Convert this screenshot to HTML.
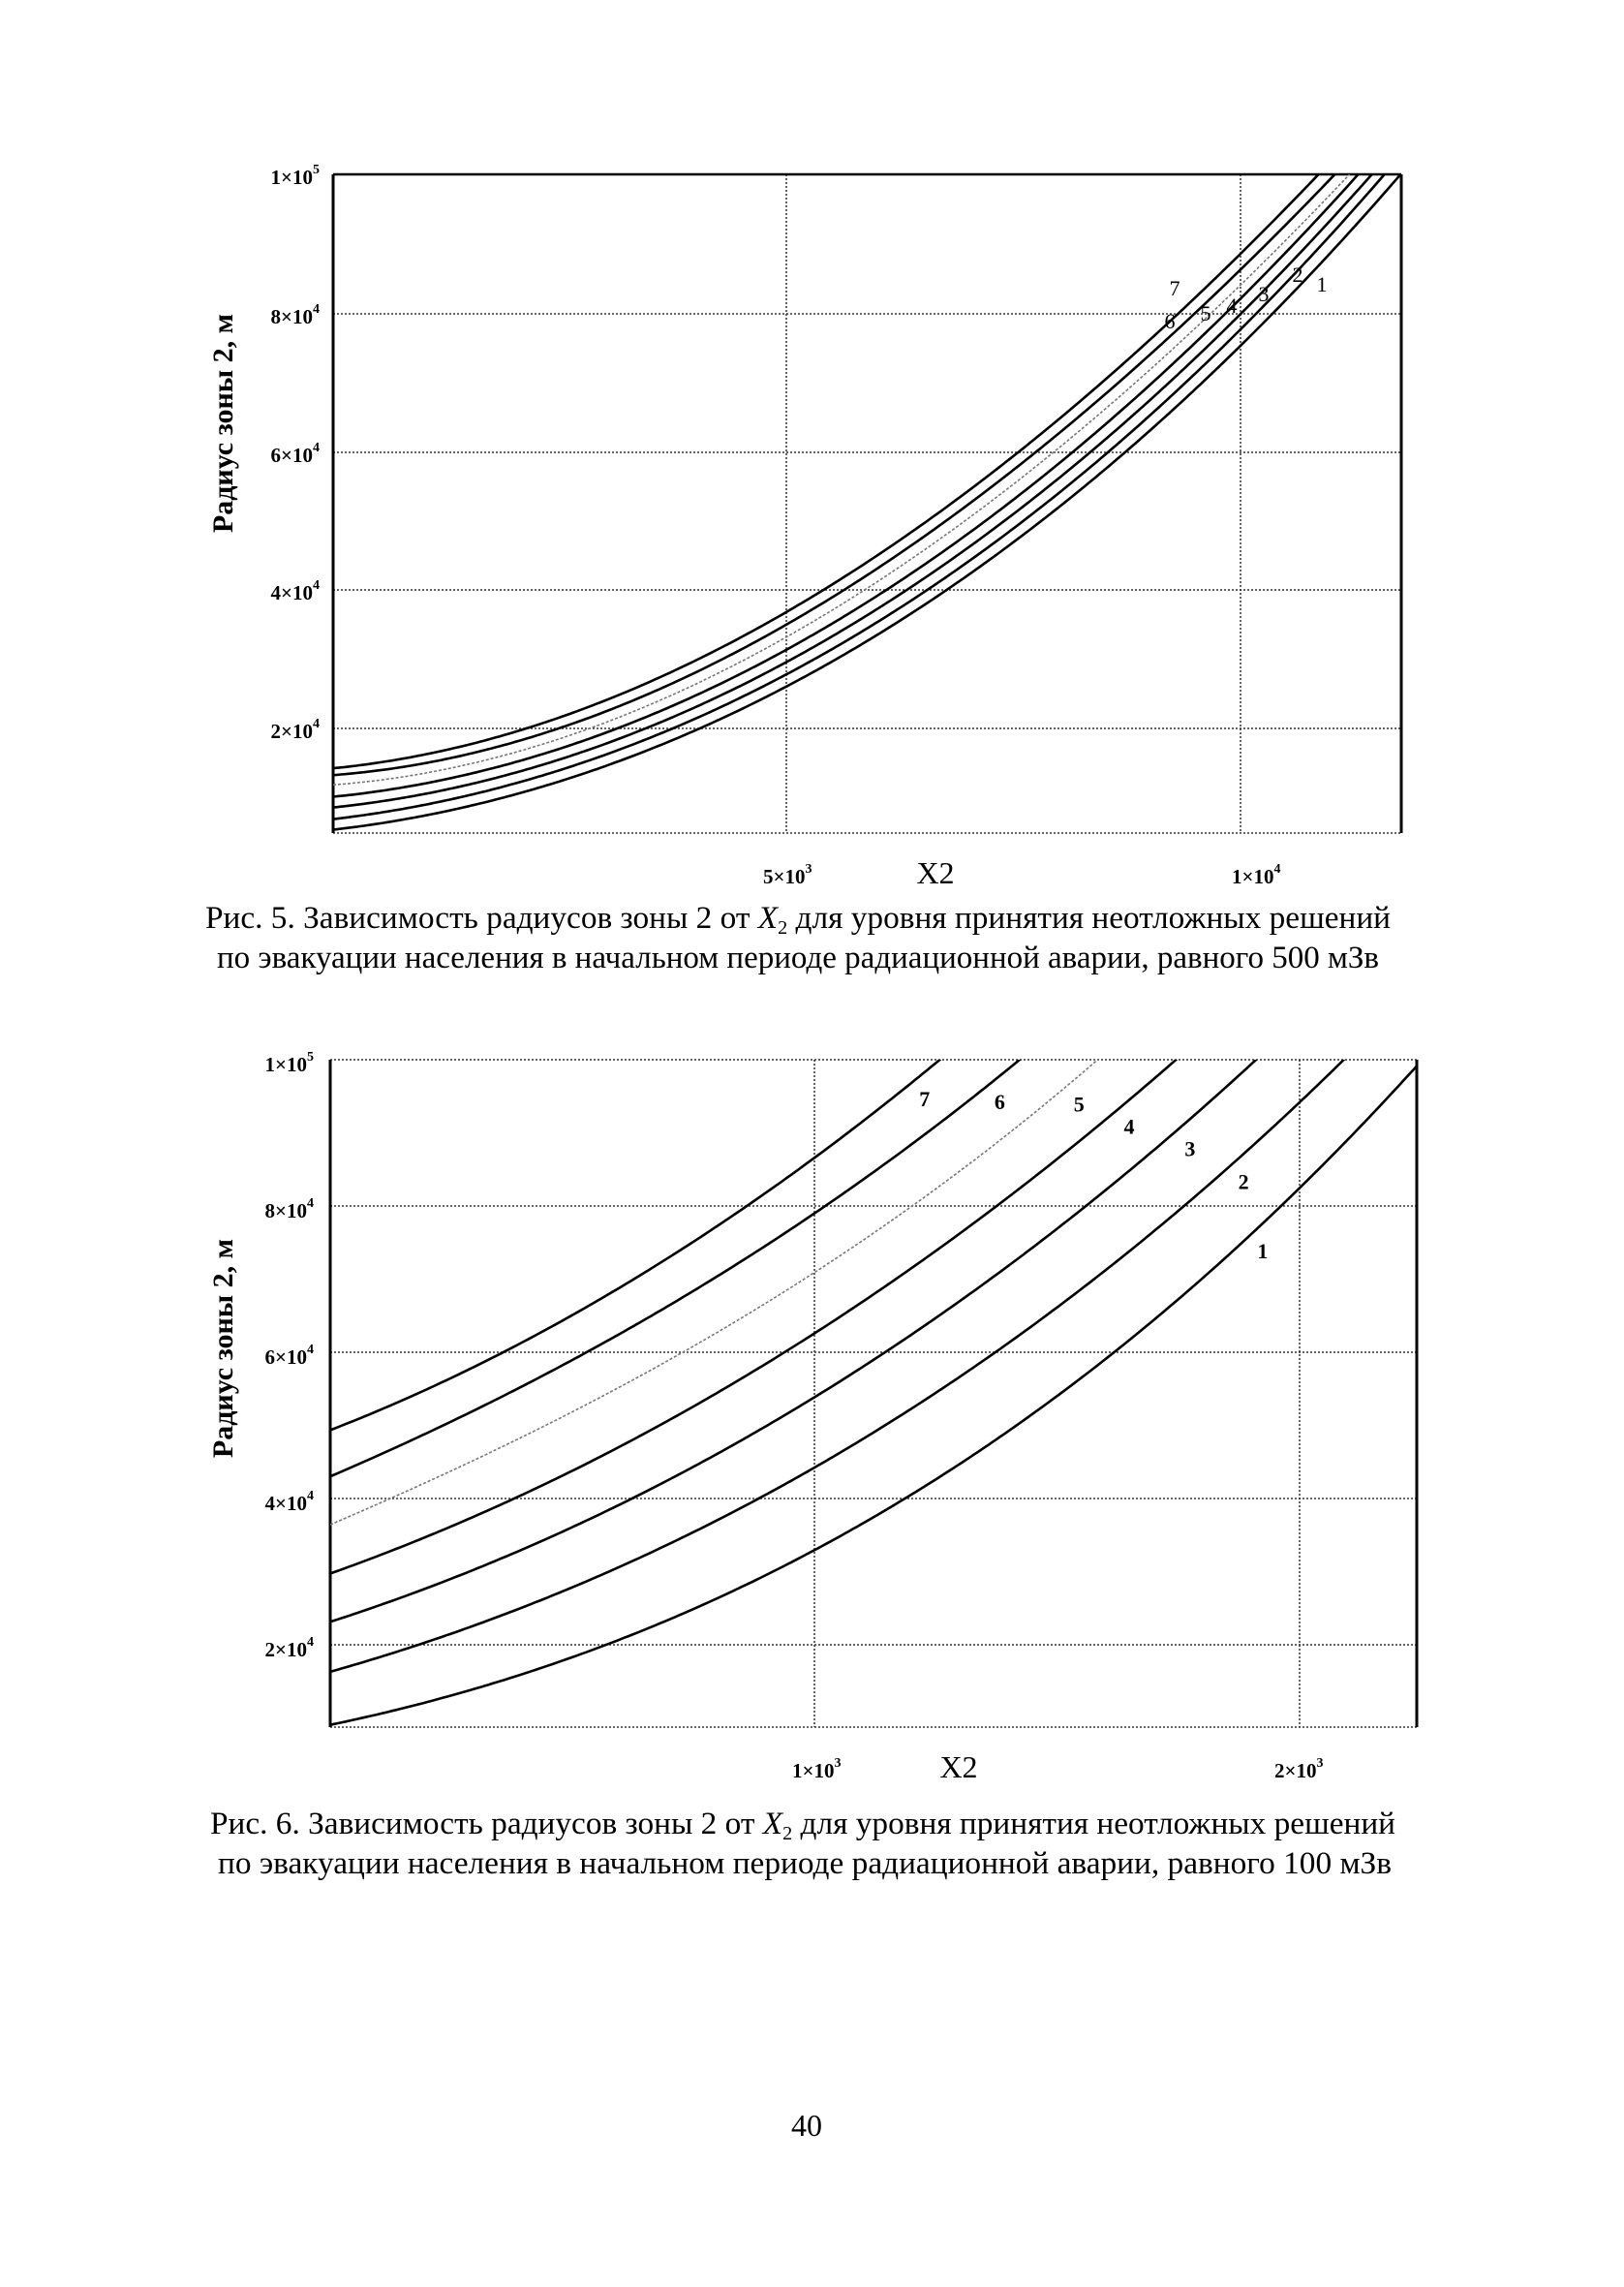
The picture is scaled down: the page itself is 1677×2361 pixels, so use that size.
<!DOCTYPE html>
<html><head><meta charset="utf-8">
<style>
html,body{margin:0;padding:0;background:#fff;}
svg{display:block;}
text{font-family:"Liberation Serif","DejaVu Serif",serif;fill:#000;}
</style></head>
<body>
<svg id="s" width="1677" height="2361" viewBox="0 0 1677 2361" xmlns="http://www.w3.org/2000/svg">
<rect width="1677" height="2361" fill="#fff"/>
<defs>
<clipPath id="k1"><rect x="344" y="180" width="1103" height="680"/></clipPath>
<clipPath id="k2"><rect x="341" y="1094" width="1122" height="689"/></clipPath>
</defs>
<g stroke="#333" stroke-width="1.5" stroke-dasharray="2 2" fill="none">
<line x1="344" y1="324" x2="1447" y2="324"/>
<line x1="344" y1="467" x2="1447" y2="467"/>
<line x1="344" y1="609" x2="1447" y2="609"/>
<line x1="344" y1="752" x2="1447" y2="752"/>
<line x1="812" y1="180" x2="812" y2="860"/>
<line x1="1281" y1="180" x2="1281" y2="860"/>
<line x1="344" y1="860" x2="1447" y2="860"/>
</g>
<line x1="344" y1="180" x2="1447" y2="180" stroke="#000" stroke-width="2.5"/>
<line x1="344" y1="180" x2="344" y2="860" stroke="#000" stroke-width="3"/>
<line x1="1447" y1="180" x2="1447" y2="860" stroke="#000" stroke-width="3"/>
<g id="c1" clip-path="url(#k1)"></g>
<g stroke="#333" stroke-width="1.5" stroke-dasharray="2 2" fill="none">
<line x1="341" y1="1245" x2="1463" y2="1245"/>
<line x1="341" y1="1396" x2="1463" y2="1396"/>
<line x1="341" y1="1547" x2="1463" y2="1547"/>
<line x1="341" y1="1698" x2="1463" y2="1698"/>
<line x1="841" y1="1094" x2="841" y2="1783"/>
<line x1="1342" y1="1094" x2="1342" y2="1783"/>
<line x1="341" y1="1094" x2="1463" y2="1094"/>
<line x1="341" y1="1783" x2="1463" y2="1783"/>
</g>
<line x1="341" y1="1094" x2="341" y2="1783" stroke="#000" stroke-width="3"/>
<line x1="1463" y1="1094" x2="1463" y2="1783" stroke="#000" stroke-width="3"/>
<g id="c2" clip-path="url(#k2)"></g>

<g font-size="21" font-weight="bold" text-anchor="end">
<text x="330" y="190">1×10<tspan font-size="14" dy="-11">5</tspan></text>
<text x="330" y="334">8×10<tspan font-size="14" dy="-11">4</tspan></text>
<text x="330" y="477">6×10<tspan font-size="14" dy="-11">4</tspan></text>
<text x="330" y="619">4×10<tspan font-size="14" dy="-11">4</tspan></text>
<text x="330" y="762">2×10<tspan font-size="14" dy="-11">4</tspan></text>
</g>
<g font-size="21" font-weight="bold">
<text x="788" y="912">5×10<tspan font-size="14" dy="-11">3</tspan></text>
<text x="1272" y="912">1×10<tspan font-size="14" dy="-11">4</tspan></text>
</g>
<text x="966" y="912" font-size="32" text-anchor="middle">X2</text>
<text transform="translate(240,437) rotate(-90)" font-size="30" font-weight="bold" text-anchor="middle">Радиус зоны 2, м</text>
<g font-size="22">
<text x="1213" y="305" text-anchor="middle">7</text>
<text x="1208" y="339" text-anchor="middle">6</text>
<text x="1245" y="331" text-anchor="middle">5</text>
<text x="1272" y="323" text-anchor="middle">4</text>
<text x="1305" y="311" text-anchor="middle">3</text>
<text x="1340" y="291" text-anchor="middle">2</text>
<text x="1365" y="301" text-anchor="middle">1</text>
</g>
<text x="212" y="958" font-size="33" textLength="1224" lengthAdjust="spacingAndGlyphs">Рис. 5. Зависимость радиусов зоны 2 от <tspan font-style="italic">X</tspan><tspan font-size="20" dy="6">2</tspan><tspan dy="-6"> для уровня принятия неотложных решений</tspan></text>
<text x="224" y="999" font-size="33" textLength="1200" lengthAdjust="spacingAndGlyphs">по эвакуации населения в начальном периоде радиационной аварии, равного 500 мЗв</text>

<g font-size="21" font-weight="bold" text-anchor="end">
<text x="324" y="1106">1×10<tspan font-size="14" dy="-11">5</tspan></text>
<text x="324" y="1257">8×10<tspan font-size="14" dy="-11">4</tspan></text>
<text x="324" y="1408">6×10<tspan font-size="14" dy="-11">4</tspan></text>
<text x="324" y="1559">4×10<tspan font-size="14" dy="-11">4</tspan></text>
<text x="324" y="1710">2×10<tspan font-size="14" dy="-11">4</tspan></text>
</g>
<g font-size="21" font-weight="bold">
<text x="818" y="1835">1×10<tspan font-size="14" dy="-11">3</tspan></text>
<text x="1316" y="1835">2×10<tspan font-size="14" dy="-11">3</tspan></text>
</g>
<text x="990" y="1835" font-size="32" text-anchor="middle">X2</text>
<text transform="translate(240,1392) rotate(-90)" font-size="30" font-weight="bold" text-anchor="middle">Радиус зоны 2, м</text>
<g id="l2" font-size="22" font-weight="bold" text-anchor="middle"></g>
<text x="217" y="1893" font-size="33" textLength="1224" lengthAdjust="spacingAndGlyphs">Рис. 6. Зависимость радиусов зоны 2 от <tspan font-style="italic">X</tspan><tspan font-size="20" dy="6">2</tspan><tspan dy="-6"> для уровня принятия неотложных решений</tspan></text>
<text x="225" y="1934" font-size="33" textLength="1212" lengthAdjust="spacingAndGlyphs">по эвакуации населения в начальном периоде радиационной аварии, равного 100 мЗв</text>

<text x="833" y="2205" font-size="32" text-anchor="middle">40</text>
</svg>
<script>
var NS="http://www.w3.org/2000/svg";
function fit(p){ // cubic least squares y(x)
  var x0=p[0][0],sc=p[p.length-1][0]-x0;var A=[[0,0,0,0],[0,0,0,0],[0,0,0,0],[0,0,0,0]],b=[0,0,0,0];
  p.forEach(function(q){var t=(q[0]-x0)/sc,v=[1,t,t*t,t*t*t];for(var i=0;i<4;i++){b[i]+=v[i]*q[1];for(var j=0;j<4;j++)A[i][j]+=v[i]*v[j];}});
  for(var i=0;i<4;i++){for(var k=i+1;k<4;k++){var f=A[k][i]/A[i][i];for(var j=i;j<4;j++)A[k][j]-=f*A[i][j];b[k]-=f*b[i];}}
  var c=[0,0,0,0];for(var i=3;i>=0;i--){var s=b[i];for(var j=i+1;j<4;j++)s-=A[i][j]*c[j];c[i]=s/A[i][i];}
  return function(x){var t=(x-x0)/sc;return c[0]+c[1]*t+c[2]*t*t+c[3]*t*t*t;};
}
function path(p,xa,xb){var f=fit(p),d="";for(var x=xa;x<=xb+0.01;x+=4){d+=(d?" L":"M")+x.toFixed(1)+","+f(x).toFixed(1);}return d;}
function add(g,d,dashed){var e=document.createElementNS(NS,"path");e.setAttribute("d",d);e.setAttribute("fill","none");
if(dashed){e.setAttribute("stroke","#777");e.setAttribute("stroke-width","1.6");e.setAttribute("stroke-dasharray","3 2");}
else{e.setAttribute("stroke","#000");e.setAttribute("stroke-width","2.6");}
document.getElementById(g).appendChild(e);}
var sy=[793,800,810,822,833,845,856], ex=[1363,1380,1395,1403,1417,1430,1447];
for(var i=0;i<7;i++){var f=i/6;function L(a,b){return a+(b-a)*f;}
var pts=[[344,sy[i]],[582,L(740,808)],[812,L(630,704)],[1067,L(457,549)],[1281,L(259,354)],[ex[i],180]];
add("c1",path(pts,344,ex[i]+30),i==2);}
function m(p){return [341+(p[0]-228)/1.16,1094+(p[1]-58)/1.752];}
var C=[
[[228,728],[518,520],[808,235],[883,150],[958,58]],
[[228,812],[518,600],[808,340],[930,200],[1055,58]],
[[228,900],[518,690],[808,455],[980,250],[1150,58]],
[[228,990],[518,790],[808,575],[1030,300],[1245,58]],
[[228,1078],[518,890],[808,690],[1080,370],[1340,58]],
[[228,1168],[518,1000],[808,815],[1100,490],[1390,143],[1439,58]],
[[228,1262],[518,1135],[808,950],[1160,592],[1366,325],[1528,72]]];
for(var j=0;j<7;j++){var q=C[j].map(m);add("c2",path(q,341,q[q.length-1][0]+30),j==2);}
var labs=[["7",940,128],["6",1030,133],["5",1125,138],["4",1185,178],["3",1258,218],["2",1322,278],["1",1345,403]];
var g=document.getElementById("l2");
labs.forEach(function(l){var p=m([l[1],l[2]]);var t=document.createElementNS(NS,"text");t.setAttribute("x",p[0]);t.setAttribute("y",p[1]+8);t.textContent=l[0];g.appendChild(t);});
</script>
</body></html>
